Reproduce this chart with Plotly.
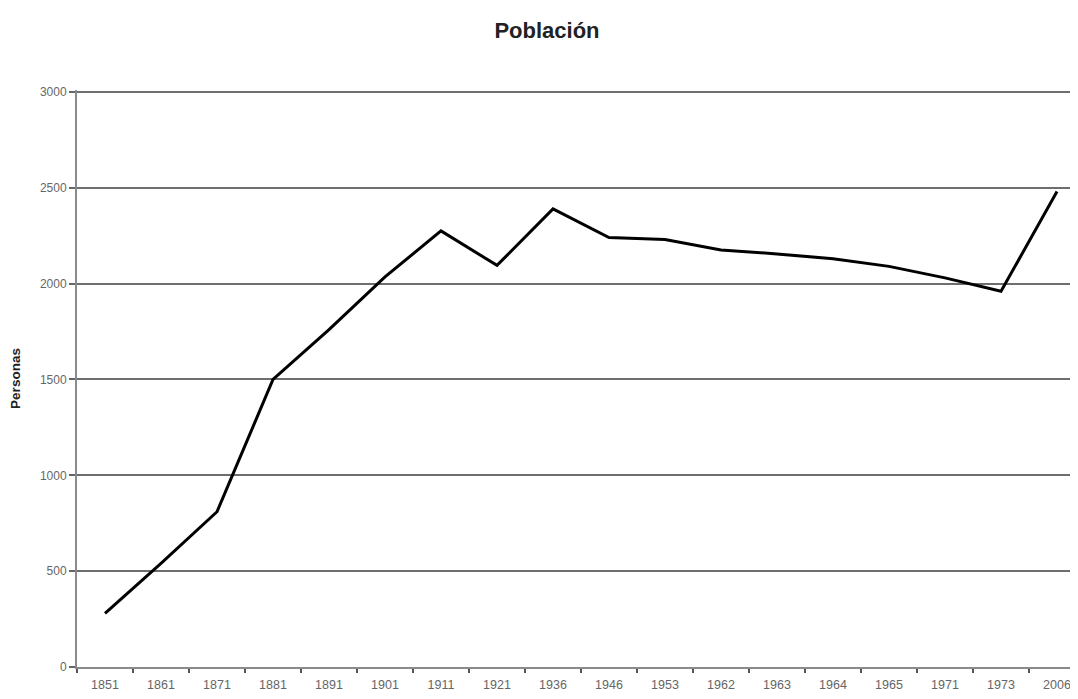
import plotly.graph_objects as go

years = ["1851", "1861", "1871", "1881", "1891", "1901", "1911", "1921", "1936",
         "1946", "1953", "1962", "1963", "1964", "1965", "1971", "1973", "2006"]
population = [280, 540, 810, 1500, 1760, 2035, 2275, 2095, 2390,
              2240, 2230, 2175, 2155, 2130, 2090, 2030, 1960, 2480]
y_ticks = [0, 500, 1000, 1500, 2000, 2500, 3000]

fig = go.Figure()
fig.add_trace(go.Scatter(
    x=years, y=population, mode="lines",
    line=dict(color="black", width=3),
    showlegend=False,
))

fig.update_layout(
    width=1078, height=699,
    margin=dict(l=69, r=1, t=82, b=40),
    paper_bgcolor="white", plot_bgcolor="white",
    font=dict(family="Liberation Sans, Arial, sans-serif", color="#555555", size=12),
    title=dict(text="<b>Población</b>", x=0.5, xanchor="center", y=0.9685, yanchor="middle",
               font=dict(size=22, color="#222222", family="Liberation Sans, Arial, sans-serif")),
)
fig.update_xaxes(
    type="category", range=[-0.5, 17.5],
    showline=True, linecolor="#8a8a8a", linewidth=2,
    showgrid=False, ticks="outside", tickson="boundaries",
    ticklen=4, tickcolor="#555555", tickwidth=1.5,
    ticklabelstandoff=5,
    tickfont=dict(size=12.5, color="#666666"),
)
fig.update_yaxes(
    range=[0, 3010], tickvals=y_ticks,
    showline=True, linecolor="#8a8a8a", linewidth=2,
    showgrid=True, gridcolor="#6e6e6e", gridwidth=1.5,
    ticks="outside", ticklen=6, tickcolor="#666666", tickwidth=1.5,
    tickfont=dict(size=12, color="#666666"),
    title=dict(text="<b>Personas</b>", font=dict(size=13.5, color="#222222"), standoff=16),
    zeroline=False,
)

fig.write_html("out.html")
